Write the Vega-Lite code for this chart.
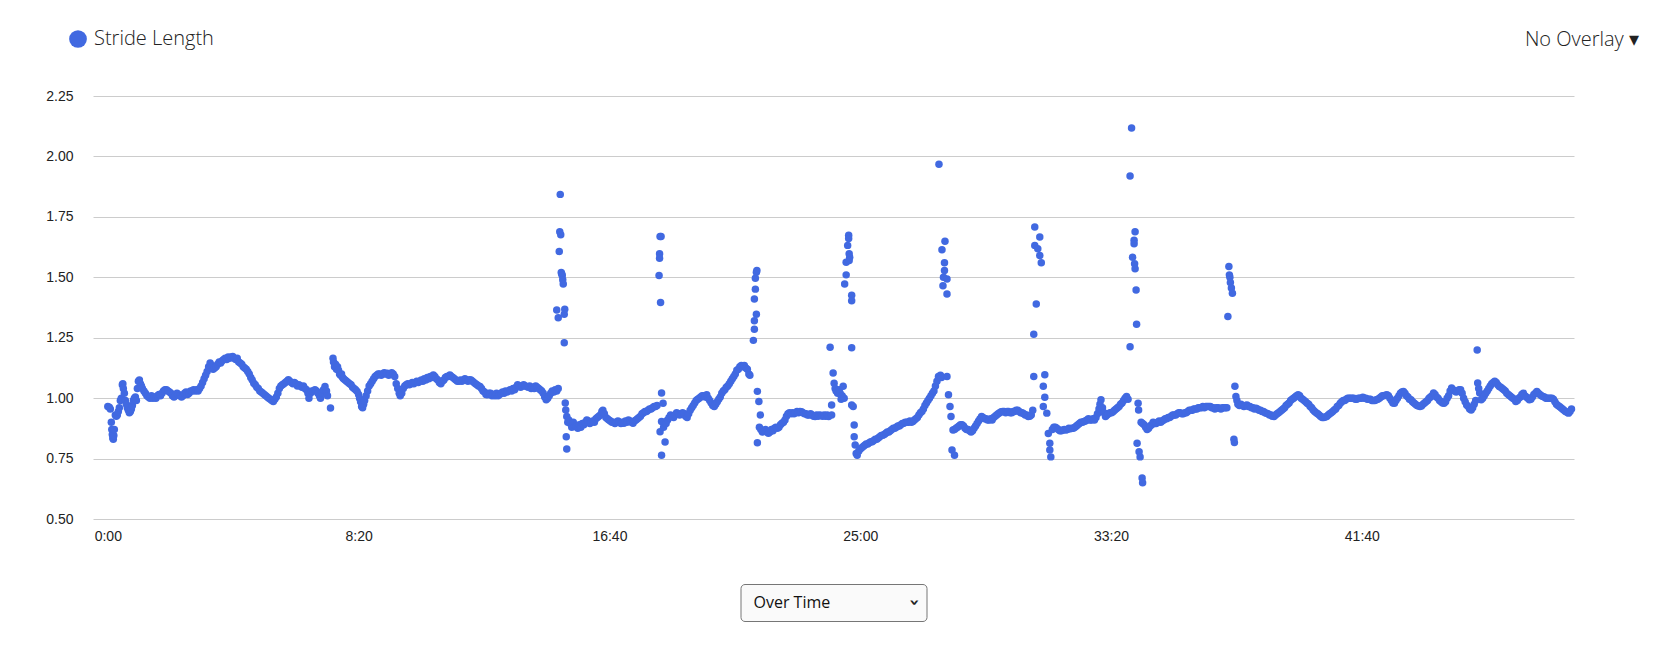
{
  "$schema": "https://vega.github.io/schema/vega-lite/v6.json",
  "description": "Stride length over the run, one dot per sample",
  "background": "white",
  "padding": {"left": 45, "top": 29, "right": 5, "bottom": 5},
  "bounds": "flush",
  "center": true,
  "spacing": 65,
  "config": {
    "view": {"stroke": null},
    "axis": {
      "labelFont": "Liberation Sans",
      "labelFontSize": 14,
      "labelColor": "#222",
      "domain": false,
      "ticks": false,
      "title": null
    }
  },
  "vconcat": [
    {
      "width": 1481,
      "height": 423,
      "title": {
        "text": "No Overlay ▾",
        "anchor": "end",
        "frame": "group",
        "dx": 65,
        "offset": 39,
        "fontSize": 20,
        "font": "Open Sans",
        "fontWeight": 300,
        "color": "#222"
      },
      "data": {
        "values": [
          {"t":0,"v":0.965},{"t":3,"v":0.962},{"t":5,"v":0.955},{"t":7,"v":0.9},{"t":8,"v":0.87},{"t":9,"v":0.85},{"t":10,"v":0.835},{"t":11,"v":0.83},{"t":12,"v":0.845},{"t":13,"v":0.87},{"t":15,"v":0.93},{"t":17,"v":0.925},{"t":19,"v":0.93},{"t":21,"v":0.945},{"t":23,"v":0.96},{"t":25,"v":0.99},{"t":27,"v":1.0},{"t":29,"v":1.055},{"t":30,"v":1.06},{"t":31,"v":1.04},{"t":33,"v":1.02},{"t":35,"v":0.99},{"t":37,"v":0.975},{"t":39,"v":0.96},{"t":41,"v":0.95},{"t":43,"v":0.94},{"t":45,"v":0.945},{"t":47,"v":0.955},{"t":49,"v":0.97},{"t":51,"v":0.99},{"t":53,"v":1.0},{"t":55,"v":1.005},{"t":57,"v":0.99},{"t":59,"v":1.04},{"t":61,"v":1.07},{"t":63,"v":1.075},{"t":65,"v":1.06},{"t":67,"v":1.05},{"t":69,"v":1.04},{"t":72,"v":1.03},{"t":75,"v":1.02},{"t":78,"v":1.01},{"t":81,"v":1.005},{"t":84,"v":1.0},{"t":87,"v":1.01},{"t":90,"v":1.0},{"t":93,"v":1.005},{"t":96,"v":1.0},{"t":99,"v":1.01},
          {"t":102,"v":1.015},{"t":105,"v":1.01},{"t":108,"v":1.02},{"t":111,"v":1.03},{"t":114,"v":1.035},{"t":117,"v":1.035},{"t":120,"v":1.03},{"t":123,"v":1.025},{"t":126,"v":1.02},{"t":129,"v":1.01},{"t":132,"v":1.005},{"t":135,"v":1.01},{"t":138,"v":1.02},{"t":141,"v":1.015},{"t":144,"v":1.01},{"t":147,"v":1.005},{"t":150,"v":1.01},{"t":153,"v":1.02},{"t":156,"v":1.025},{"t":159,"v":1.015},{"t":162,"v":1.02},{"t":165,"v":1.03},{"t":168,"v":1.03},{"t":171,"v":1.035},{"t":174,"v":1.03},{"t":177,"v":1.035},{"t":180,"v":1.03},{"t":183,"v":1.04},{"t":186,"v":1.05},{"t":189,"v":1.065},{"t":192,"v":1.08},{"t":195,"v":1.095},{"t":198,"v":1.11},
          {"t":201,"v":1.13},{"t":204,"v":1.145},{"t":207,"v":1.135},{"t":210,"v":1.12},{"t":213,"v":1.125},{"t":216,"v":1.13},{"t":219,"v":1.14},{"t":222,"v":1.15},{"t":225,"v":1.145},{"t":228,"v":1.155},{"t":231,"v":1.16},{"t":234,"v":1.165},{"t":237,"v":1.16},{"t":240,"v":1.17},{"t":243,"v":1.165},{"t":246,"v":1.17},{"t":249,"v":1.172},{"t":252,"v":1.165},{"t":255,"v":1.16},{"t":258,"v":1.165},{"t":261,"v":1.15},{"t":264,"v":1.145},{"t":267,"v":1.14},{"t":270,"v":1.13},{"t":273,"v":1.125},{"t":276,"v":1.12},{"t":279,"v":1.11},{"t":282,"v":1.1},{"t":285,"v":1.085},{"t":288,"v":1.075},{"t":291,"v":1.062},{"t":294,"v":1.055},{"t":297,"v":1.045},
          {"t":300,"v":1.04},{"t":303,"v":1.03},{"t":306,"v":1.025},{"t":309,"v":1.02},{"t":312,"v":1.015},{"t":315,"v":1.01},{"t":318,"v":1.005},{"t":321,"v":1.0},{"t":324,"v":0.995},{"t":327,"v":0.99},{"t":330,"v":0.986},{"t":333,"v":0.995},{"t":336,"v":1.005},{"t":339,"v":1.02},{"t":342,"v":1.04},{"t":345,"v":1.05},{"t":348,"v":1.055},{"t":351,"v":1.06},{"t":354,"v":1.065},{"t":357,"v":1.07},{"t":360,"v":1.076},{"t":363,"v":1.07},{"t":366,"v":1.065},{"t":369,"v":1.06},{"t":372,"v":1.065},{"t":375,"v":1.06},{"t":378,"v":1.05},{"t":381,"v":1.055},{"t":384,"v":1.05},{"t":387,"v":1.045},{"t":390,"v":1.05},{"t":393,"v":1.04},{"t":396,"v":1.035},{"t":399,"v":1.02},
          {"t":401,"v":1.0},{"t":404,"v":1.02},{"t":407,"v":1.03},{"t":410,"v":1.03},{"t":413,"v":1.035},{"t":416,"v":1.03},{"t":419,"v":1.02},{"t":422,"v":1.01},{"t":424,"v":1.0},{"t":427,"v":1.02},{"t":430,"v":1.035},{"t":433,"v":1.048},{"t":436,"v":1.03},{"t":438,"v":1.01},{"t":444,"v":0.959},{"t":449,"v":1.165},{"t":450,"v":1.15},{"t":452,"v":1.13},{"t":454,"v":1.14},{"t":456,"v":1.12},{"t":458,"v":1.13},{"t":460,"v":1.115},{"t":462,"v":1.1},{"t":464,"v":1.095},{"t":466,"v":1.1},{"t":468,"v":1.085},{"t":470,"v":1.08},{"t":473,"v":1.075},{"t":476,"v":1.07},{"t":479,"v":1.065},{"t":482,"v":1.06},{"t":485,"v":1.055},{"t":488,"v":1.045},{"t":491,"v":1.04},{"t":494,"v":1.035},{"t":497,"v":1.028},
          {"t":500,"v":1.015},{"t":502,"v":1.0},{"t":504,"v":0.985},{"t":506,"v":0.965},{"t":508,"v":0.96},{"t":510,"v":0.975},{"t":512,"v":0.99},{"t":515,"v":1.01},{"t":518,"v":1.03},{"t":521,"v":1.05},{"t":524,"v":1.06},{"t":527,"v":1.07},{"t":530,"v":1.08},{"t":533,"v":1.09},{"t":536,"v":1.095},{"t":539,"v":1.1},{"t":542,"v":1.1},{"t":545,"v":1.095},{"t":548,"v":1.1},{"t":551,"v":1.105},{"t":554,"v":1.1},{"t":557,"v":1.103},{"t":560,"v":1.095},{"t":563,"v":1.1},{"t":566,"v":1.105},{"t":569,"v":1.1},{"t":572,"v":1.09},{"t":575,"v":1.06},{"t":578,"v":1.04},{"t":581,"v":1.02},{"t":583,"v":1.01},{"t":586,"v":1.02},{"t":589,"v":1.04},{"t":592,"v":1.05},{"t":595,"v":1.055},{"t":598,"v":1.06},
          {"t":601,"v":1.055},{"t":604,"v":1.06},{"t":607,"v":1.065},{"t":610,"v":1.06},{"t":613,"v":1.065},{"t":616,"v":1.07},{"t":619,"v":1.065},{"t":622,"v":1.07},{"t":625,"v":1.075},{"t":628,"v":1.07},{"t":631,"v":1.08},{"t":634,"v":1.075},{"t":637,"v":1.085},{"t":640,"v":1.08},{"t":643,"v":1.09},{"t":646,"v":1.085},{"t":649,"v":1.096},{"t":652,"v":1.09},{"t":655,"v":1.08},{"t":658,"v":1.075},{"t":661,"v":1.065},{"t":664,"v":1.06},{"t":667,"v":1.07},{"t":670,"v":1.075},{"t":673,"v":1.085},{"t":676,"v":1.09},{"t":679,"v":1.09},{"t":682,"v":1.096},{"t":685,"v":1.09},{"t":688,"v":1.085},{"t":691,"v":1.08},{"t":694,"v":1.075},{"t":697,"v":1.07},
          {"t":700,"v":1.07},{"t":703,"v":1.075},{"t":706,"v":1.07},{"t":709,"v":1.075},{"t":712,"v":1.08},{"t":715,"v":1.075},{"t":718,"v":1.07},{"t":721,"v":1.076},{"t":724,"v":1.075},{"t":727,"v":1.07},{"t":730,"v":1.065},{"t":733,"v":1.06},{"t":736,"v":1.055},{"t":739,"v":1.05},{"t":742,"v":1.048},{"t":745,"v":1.04},{"t":748,"v":1.03},{"t":751,"v":1.025},{"t":754,"v":1.015},{"t":757,"v":1.014},{"t":760,"v":1.02},{"t":763,"v":1.02},{"t":766,"v":1.01},{"t":769,"v":1.015},{"t":772,"v":1.01},{"t":775,"v":1.02},{"t":778,"v":1.01},{"t":781,"v":1.015},{"t":784,"v":1.02},{"t":787,"v":1.025},{"t":790,"v":1.02},{"t":793,"v":1.03},{"t":796,"v":1.025},{"t":799,"v":1.03},
          {"t":802,"v":1.035},{"t":805,"v":1.03},{"t":808,"v":1.04},{"t":811,"v":1.035},{"t":814,"v":1.045},{"t":817,"v":1.055},{"t":820,"v":1.05},{"t":823,"v":1.045},{"t":826,"v":1.05},{"t":829,"v":1.055},{"t":832,"v":1.05},{"t":835,"v":1.048},{"t":838,"v":1.045},{"t":841,"v":1.05},{"t":844,"v":1.04},{"t":847,"v":1.045},{"t":850,"v":1.04},{"t":853,"v":1.05},{"t":856,"v":1.045},{"t":859,"v":1.04},{"t":862,"v":1.035},{"t":865,"v":1.03},{"t":868,"v":1.02},{"t":871,"v":1.005},{"t":874,"v":0.993},{"t":877,"v":1.0},{"t":880,"v":1.01},{"t":883,"v":1.02},{"t":886,"v":1.03},{"t":889,"v":1.025},{"t":892,"v":1.035},{"t":895,"v":1.03},{"t":898,"v":1.04},
          {"t":895,"v":1.365},{"t":898,"v":1.333},{"t":900,"v":1.607},{"t":901,"v":1.688},{"t":902,"v":1.843},{"t":903,"v":1.676},{"t":904,"v":1.52},{"t":905,"v":1.514},{"t":906,"v":1.507},{"t":907,"v":1.49},{"t":908,"v":1.472},{"t":910,"v":1.347},{"t":910,"v":1.229},{"t":911,"v":1.368},
          {"t":912,"v":0.98},{"t":913,"v":0.951},{"t":914,"v":0.84},{"t":915,"v":0.924},{"t":915,"v":0.79},{"t":917,"v":0.9},{"t":919,"v":0.91},{"t":922,"v":0.895},{"t":925,"v":0.88},{"t":928,"v":0.9},{"t":931,"v":0.885},{"t":934,"v":0.882},{"t":937,"v":0.875},{"t":940,"v":0.89},{"t":943,"v":0.88},{"t":946,"v":0.895},{"t":949,"v":0.89},{"t":952,"v":0.9},{"t":955,"v":0.91},{"t":958,"v":0.905},{"t":961,"v":0.895},{"t":964,"v":0.9},{"t":967,"v":0.905},{"t":970,"v":0.9},{"t":973,"v":0.915},{"t":976,"v":0.92},{"t":979,"v":0.925},{"t":982,"v":0.93},{"t":985,"v":0.945},{"t":987,"v":0.95},{"t":990,"v":0.935},{"t":993,"v":0.92},{"t":996,"v":0.915},{"t":999,"v":0.91},
          {"t":1002,"v":0.905},{"t":1005,"v":0.9},{"t":1008,"v":0.9},{"t":1011,"v":0.895},{"t":1014,"v":0.9},{"t":1017,"v":0.905},{"t":1020,"v":0.9},{"t":1023,"v":0.895},{"t":1026,"v":0.9},{"t":1029,"v":0.896},{"t":1032,"v":0.905},{"t":1035,"v":0.9},{"t":1038,"v":0.91},{"t":1041,"v":0.905},{"t":1044,"v":0.9},{"t":1047,"v":0.896},{"t":1050,"v":0.905},{"t":1053,"v":0.91},{"t":1056,"v":0.915},{"t":1059,"v":0.92},{"t":1062,"v":0.925},{"t":1065,"v":0.935},{"t":1068,"v":0.94},{"t":1071,"v":0.945},{"t":1074,"v":0.945},{"t":1077,"v":0.95},{"t":1080,"v":0.955},{"t":1083,"v":0.955},{"t":1086,"v":0.96},{"t":1089,"v":0.965},{"t":1092,"v":0.965},{"t":1095,"v":0.97},
          {"t":1099,"v":1.507},{"t":1100,"v":1.597},{"t":1100,"v":1.579},{"t":1101,"v":1.669},{"t":1103,"v":1.669},{"t":1102,"v":1.396},{"t":1104,"v":1.021},{"t":1107,"v":0.979},{"t":1104,"v":0.903},{"t":1101,"v":0.861},{"t":1111,"v":0.819},{"t":1104,"v":0.764},
          {"t":1108,"v":0.88},{"t":1110,"v":0.9},{"t":1113,"v":0.895},{"t":1116,"v":0.91},{"t":1119,"v":0.92},{"t":1122,"v":0.93},{"t":1125,"v":0.925},{"t":1128,"v":0.92},{"t":1131,"v":0.93},{"t":1134,"v":0.94},{"t":1137,"v":0.935},{"t":1140,"v":0.93},{"t":1143,"v":0.935},{"t":1146,"v":0.94},{"t":1149,"v":0.935},{"t":1152,"v":0.925},{"t":1155,"v":0.92},{"t":1158,"v":0.935},{"t":1161,"v":0.95},{"t":1164,"v":0.96},{"t":1167,"v":0.97},{"t":1170,"v":0.98},{"t":1173,"v":0.99},{"t":1176,"v":0.995},{"t":1179,"v":1.0},{"t":1182,"v":1.005},{"t":1185,"v":1.01},{"t":1188,"v":1.01},{"t":1191,"v":1.005},{"t":1194,"v":1.014},{"t":1197,"v":1.0},
          {"t":1200,"v":0.99},{"t":1203,"v":0.98},{"t":1206,"v":0.97},{"t":1209,"v":0.965},{"t":1212,"v":0.975},{"t":1215,"v":0.985},{"t":1218,"v":0.995},{"t":1221,"v":1.005},{"t":1224,"v":1.02},{"t":1227,"v":1.03},{"t":1230,"v":1.035},{"t":1233,"v":1.045},{"t":1236,"v":1.05},{"t":1239,"v":1.06},{"t":1242,"v":1.07},{"t":1245,"v":1.08},{"t":1248,"v":1.09},{"t":1251,"v":1.1},{"t":1254,"v":1.115},{"t":1257,"v":1.12},{"t":1260,"v":1.13},{"t":1263,"v":1.135},{"t":1266,"v":1.13},{"t":1269,"v":1.135},{"t":1272,"v":1.125},{"t":1275,"v":1.12},{"t":1278,"v":1.1},{"t":1280,"v":1.095},
          {"t":1287,"v":1.239},{"t":1289,"v":1.285},{"t":1289,"v":1.32},{"t":1289,"v":1.41},{"t":1291,"v":1.451},{"t":1291,"v":1.496},{"t":1293,"v":1.521},{"t":1294,"v":1.528},{"t":1293,"v":1.347},{"t":1295,"v":1.028},{"t":1298,"v":0.986},{"t":1301,"v":0.93},{"t":1295,"v":0.815},
          {"t":1299,"v":0.88},{"t":1302,"v":0.87},{"t":1305,"v":0.86},{"t":1308,"v":0.865},{"t":1311,"v":0.87},{"t":1314,"v":0.86},{"t":1317,"v":0.855},{"t":1320,"v":0.86},{"t":1323,"v":0.87},{"t":1326,"v":0.865},{"t":1329,"v":0.875},{"t":1332,"v":0.88},{"t":1335,"v":0.875},{"t":1338,"v":0.88},{"t":1341,"v":0.89},{"t":1344,"v":0.896},{"t":1347,"v":0.9},{"t":1350,"v":0.91},{"t":1353,"v":0.925},{"t":1356,"v":0.935},{"t":1359,"v":0.94},{"t":1362,"v":0.935},{"t":1365,"v":0.94},{"t":1368,"v":0.935},{"t":1371,"v":0.94},{"t":1374,"v":0.945},{"t":1377,"v":0.94},{"t":1380,"v":0.945},{"t":1383,"v":0.944},{"t":1386,"v":0.94},{"t":1389,"v":0.935},{"t":1392,"v":0.935},{"t":1395,"v":0.93},{"t":1398,"v":0.93},
          {"t":1401,"v":0.935},{"t":1404,"v":0.93},{"t":1407,"v":0.925},{"t":1410,"v":0.924},{"t":1413,"v":0.93},{"t":1416,"v":0.925},{"t":1419,"v":0.93},{"t":1422,"v":0.928},{"t":1425,"v":0.925},{"t":1428,"v":0.93},{"t":1431,"v":0.925},{"t":1434,"v":0.93},{"t":1437,"v":0.924},
          {"t":1440,"v":1.211},{"t":1443,"v":0.972},{"t":1443,"v":0.93},{"t":1446,"v":1.104},{"t":1448,"v":1.062},{"t":1450,"v":1.04},{"t":1452,"v":1.03},{"t":1455,"v":1.02},{"t":1458,"v":1.035},{"t":1460,"v":1.02},{"t":1462,"v":0.995},{"t":1464,"v":1.01},{"t":1466,"v":1.049},{"t":1468,"v":1.0},
          {"t":1469,"v":1.472},{"t":1472,"v":1.51},{"t":1472,"v":1.562},{"t":1475,"v":1.632},{"t":1477,"v":1.674},{"t":1477,"v":1.66},{"t":1478,"v":1.597},{"t":1479,"v":1.583},{"t":1478,"v":1.569},{"t":1483,"v":1.426},{"t":1483,"v":1.403},{"t":1483,"v":1.208},
          {"t":1483,"v":0.972},{"t":1486,"v":0.965},{"t":1488,"v":0.889},{"t":1488,"v":0.84},{"t":1490,"v":0.806},{"t":1492,"v":0.771},{"t":1494,"v":0.764},{"t":1497,"v":0.78},
          {"t":1500,"v":0.79},{"t":1503,"v":0.795},{"t":1506,"v":0.8},{"t":1509,"v":0.805},{"t":1512,"v":0.81},{"t":1515,"v":0.81},{"t":1518,"v":0.815},{"t":1521,"v":0.82},{"t":1524,"v":0.82},{"t":1527,"v":0.825},{"t":1530,"v":0.83},{"t":1533,"v":0.83},{"t":1536,"v":0.835},{"t":1539,"v":0.84},{"t":1542,"v":0.845},{"t":1545,"v":0.847},{"t":1548,"v":0.85},{"t":1551,"v":0.855},{"t":1554,"v":0.86},{"t":1557,"v":0.86},{"t":1560,"v":0.865},{"t":1563,"v":0.87},{"t":1566,"v":0.875},{"t":1569,"v":0.875},{"t":1572,"v":0.88},{"t":1575,"v":0.885},{"t":1578,"v":0.885},{"t":1581,"v":0.89},{"t":1584,"v":0.895},{"t":1587,"v":0.896},{"t":1590,"v":0.9},{"t":1593,"v":0.9},{"t":1596,"v":0.9},{"t":1599,"v":0.905},
          {"t":1602,"v":0.9},{"t":1605,"v":0.903},{"t":1608,"v":0.91},{"t":1611,"v":0.915},{"t":1614,"v":0.92},{"t":1617,"v":0.93},{"t":1620,"v":0.94},{"t":1623,"v":0.945},{"t":1626,"v":0.955},{"t":1629,"v":0.97},{"t":1632,"v":0.98},{"t":1635,"v":0.99},{"t":1638,"v":1.0},{"t":1641,"v":1.01},{"t":1644,"v":1.02},{"t":1647,"v":1.03},{"t":1650,"v":1.05},{"t":1653,"v":1.07},{"t":1656,"v":1.09},
          {"t":1657,"v":1.968},{"t":1660,"v":1.095},{"t":1662,"v":1.085},{"t":1663,"v":1.614},{"t":1665,"v":1.465},{"t":1666,"v":1.5},{"t":1668,"v":1.56},{"t":1668,"v":1.528},{"t":1669,"v":1.649},{"t":1673,"v":1.493},{"t":1673,"v":1.431},{"t":1673,"v":1.09},{"t":1676,"v":1.014},{"t":1679,"v":0.965},{"t":1681,"v":0.924},{"t":1683,"v":0.785},{"t":1688,"v":0.764},
          {"t":1685,"v":0.868},{"t":1688,"v":0.87},{"t":1691,"v":0.875},{"t":1694,"v":0.88},{"t":1697,"v":0.885},{"t":1700,"v":0.89},{"t":1703,"v":0.89},{"t":1706,"v":0.885},{"t":1709,"v":0.875},{"t":1712,"v":0.87},{"t":1715,"v":0.87},{"t":1718,"v":0.865},{"t":1721,"v":0.86},{"t":1724,"v":0.865},{"t":1727,"v":0.875},{"t":1730,"v":0.885},{"t":1733,"v":0.895},{"t":1736,"v":0.905},{"t":1739,"v":0.915},{"t":1742,"v":0.924},{"t":1745,"v":0.92},{"t":1748,"v":0.915},{"t":1751,"v":0.915},{"t":1754,"v":0.91},{"t":1757,"v":0.91},{"t":1760,"v":0.915},{"t":1763,"v":0.91},{"t":1766,"v":0.92},{"t":1769,"v":0.925},{"t":1772,"v":0.93},{"t":1775,"v":0.935},{"t":1778,"v":0.94},{"t":1781,"v":0.944},{"t":1784,"v":0.945},{"t":1787,"v":0.945},{"t":1790,"v":0.94},{"t":1793,"v":0.945},{"t":1796,"v":0.945},{"t":1799,"v":0.94},
          {"t":1802,"v":0.94},{"t":1805,"v":0.945},{"t":1808,"v":0.945},{"t":1811,"v":0.95},{"t":1814,"v":0.95},{"t":1817,"v":0.945},{"t":1820,"v":0.94},{"t":1823,"v":0.94},{"t":1826,"v":0.935},{"t":1829,"v":0.93},{"t":1832,"v":0.93},{"t":1835,"v":0.924},{"t":1838,"v":0.925},{"t":1841,"v":0.93},
          {"t":1844,"v":0.95},{"t":1846,"v":1.09},{"t":1846,"v":1.264},{"t":1848,"v":1.708},{"t":1848,"v":1.632},{"t":1851,"v":1.389},{"t":1854,"v":1.618},{"t":1858,"v":1.667},{"t":1858,"v":1.59},{"t":1861,"v":1.56},{"t":1865,"v":1.049},{"t":1865,"v":0.965},{"t":1868,"v":1.097},{"t":1868,"v":1.004},{"t":1872,"v":0.938},{"t":1875,"v":0.854},{"t":1878,"v":0.813},{"t":1878,"v":0.785},{"t":1880,"v":0.757},
          {"t":1883,"v":0.87},{"t":1886,"v":0.88},{"t":1889,"v":0.88},{"t":1892,"v":0.875},{"t":1895,"v":0.87},{"t":1898,"v":0.865},{"t":1901,"v":0.865},{"t":1904,"v":0.868},{"t":1907,"v":0.87},{"t":1910,"v":0.868},{"t":1913,"v":0.87},{"t":1916,"v":0.875},{"t":1919,"v":0.873},{"t":1922,"v":0.875},{"t":1925,"v":0.875},{"t":1928,"v":0.88},{"t":1931,"v":0.885},{"t":1934,"v":0.89},{"t":1937,"v":0.895},{"t":1940,"v":0.9},{"t":1943,"v":0.9},{"t":1946,"v":0.903},{"t":1949,"v":0.905},{"t":1952,"v":0.91},{"t":1955,"v":0.915},{"t":1958,"v":0.91},{"t":1961,"v":0.91},{"t":1964,"v":0.915},{"t":1967,"v":0.91},{"t":1970,"v":0.92},{"t":1973,"v":0.935},{"t":1976,"v":0.955},{"t":1978,"v":0.975},{"t":1980,"v":0.993},{"t":1983,"v":0.96},{"t":1986,"v":0.94},{"t":1989,"v":0.924},{"t":1992,"v":0.93},{"t":1995,"v":0.935},{"t":1998,"v":0.94},
          {"t":2001,"v":0.94},{"t":2004,"v":0.944},{"t":2007,"v":0.95},{"t":2010,"v":0.955},{"t":2013,"v":0.96},{"t":2016,"v":0.965},{"t":2019,"v":0.975},{"t":2022,"v":0.98},{"t":2025,"v":0.99},{"t":2028,"v":1.0},{"t":2031,"v":1.007},{"t":2034,"v":0.995},
          {"t":2038,"v":1.919},{"t":2038,"v":1.213},{"t":2041,"v":2.118},{"t":2043,"v":1.583},{"t":2046,"v":1.653},{"t":2046,"v":1.639},{"t":2047,"v":1.556},{"t":2048,"v":1.688},{"t":2048,"v":1.535},{"t":2050,"v":1.447},{"t":2051,"v":1.306},{"t":2052,"v":0.813},{"t":2054,"v":0.979},{"t":2055,"v":0.951},{"t":2056,"v":0.778},{"t":2058,"v":0.757},{"t":2062,"v":0.67},{"t":2063,"v":0.65},
          {"t":2060,"v":0.9},{"t":2063,"v":0.895},{"t":2066,"v":0.89},{"t":2069,"v":0.88},{"t":2072,"v":0.87},{"t":2075,"v":0.875},{"t":2078,"v":0.885},{"t":2081,"v":0.89},{"t":2084,"v":0.9},{"t":2087,"v":0.895},{"t":2090,"v":0.895},{"t":2093,"v":0.9},{"t":2096,"v":0.905},{"t":2099,"v":0.9},
          {"t":2102,"v":0.905},{"t":2105,"v":0.91},{"t":2108,"v":0.915},{"t":2111,"v":0.915},{"t":2114,"v":0.92},{"t":2117,"v":0.92},{"t":2120,"v":0.925},{"t":2123,"v":0.93},{"t":2126,"v":0.93},{"t":2129,"v":0.93},{"t":2132,"v":0.935},{"t":2135,"v":0.94},{"t":2138,"v":0.94},{"t":2141,"v":0.935},{"t":2144,"v":0.935},{"t":2147,"v":0.94},{"t":2150,"v":0.94},{"t":2153,"v":0.945},{"t":2156,"v":0.95},{"t":2159,"v":0.95},{"t":2162,"v":0.95},{"t":2165,"v":0.955},{"t":2168,"v":0.955},{"t":2171,"v":0.955},{"t":2174,"v":0.96},{"t":2177,"v":0.96},{"t":2180,"v":0.96},{"t":2183,"v":0.965},{"t":2186,"v":0.96},{"t":2189,"v":0.965},{"t":2192,"v":0.965},{"t":2195,"v":0.965},{"t":2198,"v":0.965},
          {"t":2201,"v":0.96},{"t":2204,"v":0.96},{"t":2207,"v":0.955},{"t":2210,"v":0.96},{"t":2213,"v":0.96},{"t":2216,"v":0.958},{"t":2219,"v":0.955},{"t":2222,"v":0.96},{"t":2225,"v":0.96},{"t":2228,"v":0.96},{"t":2231,"v":0.96},
          {"t":2233,"v":1.338},{"t":2235,"v":1.545},{"t":2236,"v":1.51},{"t":2237,"v":1.5},{"t":2238,"v":1.478},{"t":2240,"v":1.456},{"t":2242,"v":1.434},{"t":2245,"v":0.83},{"t":2246,"v":0.816},{"t":2247,"v":1.049},{"t":2249,"v":1.007},
          {"t":2251,"v":0.99},{"t":2253,"v":0.975},{"t":2256,"v":0.97},{"t":2259,"v":0.975},{"t":2262,"v":0.97},{"t":2265,"v":0.965},{"t":2268,"v":0.97},{"t":2271,"v":0.972},{"t":2274,"v":0.965},{"t":2277,"v":0.965},{"t":2280,"v":0.96},{"t":2283,"v":0.96},{"t":2286,"v":0.955},{"t":2289,"v":0.958},{"t":2292,"v":0.955},{"t":2295,"v":0.95},{"t":2298,"v":0.95},
          {"t":2301,"v":0.945},{"t":2304,"v":0.945},{"t":2307,"v":0.94},{"t":2310,"v":0.938},{"t":2313,"v":0.935},{"t":2316,"v":0.93},{"t":2319,"v":0.93},{"t":2322,"v":0.925},{"t":2325,"v":0.924},{"t":2328,"v":0.93},{"t":2331,"v":0.935},{"t":2334,"v":0.94},{"t":2337,"v":0.945},{"t":2340,"v":0.95},{"t":2343,"v":0.955},{"t":2346,"v":0.96},{"t":2349,"v":0.97},{"t":2352,"v":0.975},{"t":2355,"v":0.98},{"t":2358,"v":0.99},{"t":2361,"v":0.995},{"t":2364,"v":1.0},{"t":2367,"v":1.005},{"t":2370,"v":1.01},{"t":2373,"v":1.014},{"t":2376,"v":1.01},{"t":2379,"v":1.0},{"t":2382,"v":0.995},{"t":2385,"v":0.99},{"t":2388,"v":0.985},{"t":2391,"v":0.979},{"t":2394,"v":0.975},{"t":2397,"v":0.965},
          {"t":2400,"v":0.96},{"t":2403,"v":0.951},{"t":2406,"v":0.945},{"t":2409,"v":0.94},{"t":2412,"v":0.935},{"t":2415,"v":0.93},{"t":2418,"v":0.924},{"t":2421,"v":0.92},{"t":2424,"v":0.92},{"t":2427,"v":0.922},{"t":2430,"v":0.924},{"t":2433,"v":0.93},{"t":2436,"v":0.935},{"t":2439,"v":0.94},{"t":2442,"v":0.945},{"t":2445,"v":0.951},{"t":2448,"v":0.955},{"t":2451,"v":0.965},{"t":2454,"v":0.97},{"t":2457,"v":0.979},{"t":2460,"v":0.985},{"t":2463,"v":0.99},{"t":2466,"v":0.99},{"t":2469,"v":0.995},{"t":2472,"v":1.0},{"t":2475,"v":1.0},{"t":2478,"v":1.0},{"t":2481,"v":1.0},{"t":2484,"v":1.0},{"t":2487,"v":0.995},{"t":2490,"v":0.995},{"t":2493,"v":1.0},{"t":2496,"v":1.0},{"t":2499,"v":1.0},
          {"t":2502,"v":1.004},{"t":2505,"v":1.0},{"t":2508,"v":1.0},{"t":2511,"v":0.995},{"t":2514,"v":0.995},{"t":2517,"v":0.995},{"t":2520,"v":0.99},{"t":2523,"v":0.99},{"t":2526,"v":0.99},{"t":2529,"v":0.993},{"t":2532,"v":0.995},{"t":2535,"v":1.0},{"t":2538,"v":1.005},{"t":2541,"v":1.01},{"t":2544,"v":1.01},{"t":2547,"v":1.012},{"t":2550,"v":1.014},{"t":2553,"v":1.01},{"t":2556,"v":1.0},{"t":2559,"v":0.99},{"t":2562,"v":0.98},{"t":2565,"v":0.979},{"t":2568,"v":0.99},{"t":2571,"v":1.0},{"t":2574,"v":1.01},{"t":2577,"v":1.02},{"t":2580,"v":1.025},{"t":2583,"v":1.028},{"t":2586,"v":1.02},{"t":2589,"v":1.01},{"t":2592,"v":1.005},{"t":2595,"v":0.995},{"t":2598,"v":0.993},
          {"t":2601,"v":0.985},{"t":2604,"v":0.98},{"t":2607,"v":0.975},{"t":2610,"v":0.97},{"t":2613,"v":0.968},{"t":2616,"v":0.965},{"t":2619,"v":0.968},{"t":2622,"v":0.975},{"t":2625,"v":0.98},{"t":2628,"v":0.985},{"t":2631,"v":0.99},{"t":2634,"v":1.0},{"t":2637,"v":1.005},{"t":2640,"v":1.01},{"t":2643,"v":1.021},{"t":2646,"v":1.015},{"t":2649,"v":1.005},{"t":2652,"v":1.0},{"t":2655,"v":0.99},{"t":2658,"v":0.985},{"t":2661,"v":0.98},{"t":2664,"v":0.979},{"t":2667,"v":0.985},{"t":2670,"v":1.0},{"t":2673,"v":1.01},{"t":2676,"v":1.03},{"t":2679,"v":1.042},{"t":2682,"v":1.035},{"t":2685,"v":1.03},{"t":2688,"v":1.025},{"t":2691,"v":1.03},{"t":2694,"v":1.035},{"t":2697,"v":1.035},
          {"t":2700,"v":1.02},{"t":2703,"v":1.0},{"t":2706,"v":0.985},{"t":2709,"v":0.972},{"t":2712,"v":0.965},{"t":2715,"v":0.955},{"t":2718,"v":0.951},{"t":2721,"v":0.96},{"t":2724,"v":0.975},{"t":2727,"v":0.99},{"t":2730,"v":1.199},{"t":2731,"v":1.063},{"t":2733,"v":1.04},{"t":2735,"v":1.021},{"t":2738,"v":0.993},{"t":2741,"v":1.0},{"t":2744,"v":1.01},{"t":2747,"v":1.02},{"t":2750,"v":1.03},{"t":2753,"v":1.04},{"t":2756,"v":1.05},{"t":2759,"v":1.06},{"t":2762,"v":1.065},{"t":2765,"v":1.07},{"t":2768,"v":1.065},{"t":2771,"v":1.055},{"t":2774,"v":1.048},{"t":2777,"v":1.045},{"t":2780,"v":1.04},{"t":2783,"v":1.035},{"t":2786,"v":1.03},{"t":2789,"v":1.02},{"t":2792,"v":1.015},{"t":2795,"v":1.01},{"t":2798,"v":1.005},
          {"t":2801,"v":1.0},{"t":2804,"v":0.995},{"t":2807,"v":0.986},{"t":2810,"v":0.99},{"t":2813,"v":1.0},{"t":2816,"v":1.005},{"t":2819,"v":1.015},{"t":2822,"v":1.02},{"t":2825,"v":1.01},{"t":2828,"v":1.005},{"t":2831,"v":1.0},{"t":2834,"v":0.993},{"t":2837,"v":0.995},{"t":2840,"v":1.005},{"t":2843,"v":1.015},{"t":2846,"v":1.02},{"t":2849,"v":1.028},{"t":2852,"v":1.02},{"t":2855,"v":1.015},{"t":2858,"v":1.01},{"t":2861,"v":1.007},{"t":2864,"v":1.005},{"t":2867,"v":1.0},{"t":2870,"v":1.0},{"t":2873,"v":1.0},{"t":2876,"v":1.0},{"t":2879,"v":1.0},{"t":2882,"v":0.995},{"t":2885,"v":0.985},{"t":2888,"v":0.975},{"t":2891,"v":0.97},{"t":2894,"v":0.965},{"t":2897,"v":0.96},
          {"t":2900,"v":0.955},{"t":2903,"v":0.95},{"t":2906,"v":0.945},{"t":2909,"v":0.942},{"t":2912,"v":0.938},{"t":2915,"v":0.945},{"t":2918,"v":0.955}
        ]
      },
      "mark": {"type": "circle", "size": 56, "opacity": 1},
      "encoding": {
        "x": {
          "field": "t",
          "type": "quantitative",
          "scale": {"domain": [-29.5, 2923], "nice": false, "zero": false},
          "axis": {
            "values": [0, 500, 1000, 1500, 2000, 2500],
            "grid": false,
            "labelPadding": 10,
            "labelExpr": "floor(datum.value / 60) + ':' + (datum.value % 60 < 10 ? '0' : '') + (datum.value % 60)"
          }
        },
        "y": {
          "field": "v",
          "type": "quantitative",
          "scale": {"domain": [0.5, 2.25], "nice": false, "zero": false},
          "axis": {
            "values": [0.5, 0.75, 1, 1.25, 1.5, 1.75, 2, 2.25],
            "format": ".2f",
            "labelPadding": 20,
            "grid": true,
            "gridColor": "#cccccc",
            "gridWidth": 1
          }
        },
        "color": {
          "datum": "Stride Length",
          "type": "nominal",
          "scale": {"range": ["#4169e1"]},
          "legend": {
            "orient": "none",
            "legendX": -25,
            "legendY": -67,
            "title": null,
            "symbolType": "circle",
            "symbolSize": 314,
            "symbolStrokeWidth": 0,
            "labelFont": "Open Sans",
            "labelFontSize": 20,
            "labelFontWeight": 300,
            "labelColor": "#222",
            "labelOffset": 6
          }
        }
      }
    },
    {
      "width": 186,
      "height": 37,
      "view": {"stroke": "#767676", "fill": "#fafafa", "cornerRadius": 4},
      "data": {"values": [{"label": "Over Time"}]},
      "layer": [
        {
          "mark": {"type": "text", "align": "left", "baseline": "middle", "dx": -80, "font": "Open Sans", "fontSize": 16, "color": "#111"},
          "encoding": {"text": {"field": "label", "type": "nominal"}}
        },
        {
          "mark": {"type": "text", "align": "center", "baseline": "middle", "dy": -80, "font": "DejaVu Sans", "fontSize": 18, "fontWeight": "bold", "angle": 90, "color": "#222"},
          "encoding": {"text": {"value": "›"}}
        }
      ]
    }
  ]
}
